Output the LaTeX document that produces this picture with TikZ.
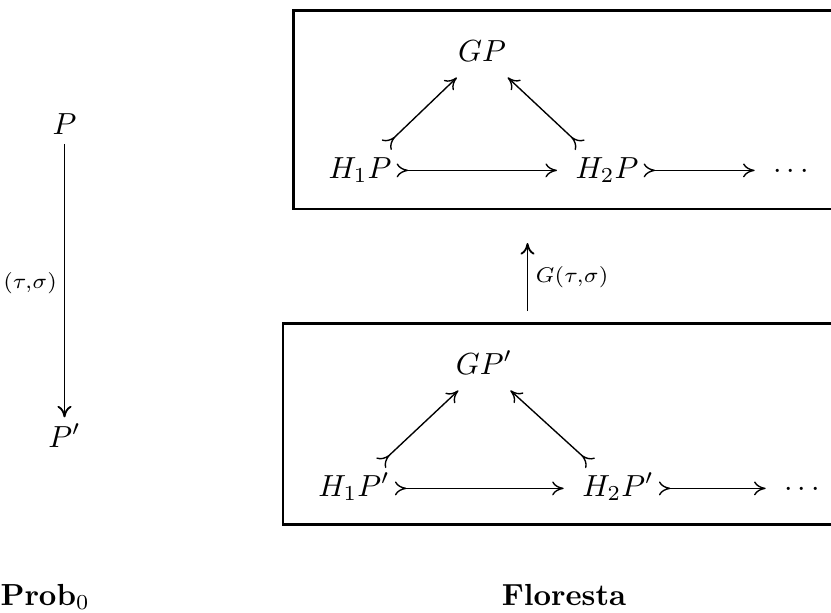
\documentclass[tikz,border=0pt]{standalone}
\usetikzlibrary{arrows.meta}
\begin{document}
\begin{tikzpicture}[x=0.328pt,y=-0.328pt,
  >={To[length=3.8pt,width=4.6pt]},
  obj/.style={inner sep=1.5pt,text height=7pt,text depth=2pt,anchor=base},
  boxline/.style={line width=0.85pt},
  arr/.style={line width=0.45pt},
  varr/.style={line width=0.6pt}]
\useasboundingbox (0,0) rectangle (831,612);
\clip (0,0) rectangle (831,612);
% boxes
\draw[boxline] (293.5,10.5) rectangle (860,209);
\draw[boxline] (283,323.3) rectangle (860,524.3);
% left column
\node[obj] (P) at (64.5,134) {$P$};
\node[obj] (Pp) at (64.5,447) {$P'$};
\draw[varr,->,shorten <=-0.5pt,shorten >=1pt] (P) -- (Pp)
  node[midway,left,inner sep=2.2pt] {$\scriptstyle(\tau,\sigma)$};
% top box
\node[obj] (GP) at (482,61) {$GP$};
\node[obj] (H1P) at (360,178) {$H_1P$};
\node[obj] (H2P) at (607,178) {$H_2P$};
\node[obj] (D1) at (791,178) {$\cdots$};
\draw[arr,>->,shorten >=4.4pt] (H1P) -- (H2P);
\draw[arr,>->,shorten >=4.4pt] (H2P) -- (D1);
\draw[arr,>->,shorten <=3pt,shorten >=2.5pt] (H1P) -- (GP);
\draw[arr,>->,shorten <=3pt,shorten >=2.5pt] (H2P) -- (GP);
% bottom box
\node[obj] (GPp) at (484,374) {$GP'$};
\node[obj] (H1Pp) at (354,496) {$H_1P'$};
\node[obj] (H2Pp) at (618,496) {$H_2P'$};
\node[obj] (D2) at (802,496) {$\cdots$};
\draw[arr,>->,shorten >=4.4pt] (H1Pp) -- (H2Pp);
\draw[arr,>->,shorten >=4.4pt] (H2Pp) -- (D2);
\draw[arr,>->,shorten <=3pt,shorten >=2.5pt] (H1Pp) -- (GPp);
\draw[arr,>->,shorten <=3pt,shorten >=2.5pt] (H2Pp) -- (GPp);
% G(tau,sigma)
\coordinate (Gs) at (527.5,311);
\coordinate (Gt) at (527.5,243);
\draw[varr,->] (Gs) -- (Gt) node[midway,right,inner sep=2.4pt] {$\scriptstyle G(\tau,\sigma)$};
% captions
\node[anchor=base west,inner sep=0pt] (prob) at (0,605) {$\mathbf{Prob}_0$};
\node[anchor=base,inner sep=0pt] (flor) at (564,605) {\textbf{Floresta}};
\end{tikzpicture}
\end{document}
